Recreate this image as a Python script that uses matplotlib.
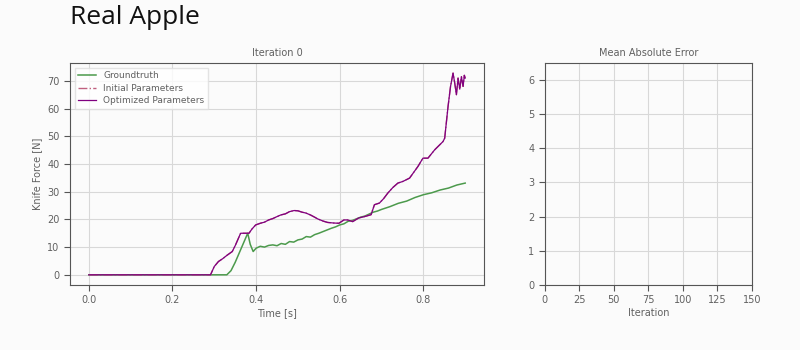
import matplotlib.pyplot as plt

# GROUNDTRUTH FORCE CURVE
gt_time = [0.0, 0.33, 0.34, 0.35, 0.36, 0.37, 0.38, 0.386, 0.393, 0.40, 0.41, 0.42, 0.43, 0.44,
           0.45, 0.46, 0.47, 0.48, 0.49, 0.50, 0.51, 0.52, 0.53, 0.54, 0.55, 0.56, 0.57, 0.58,
           0.59, 0.60, 0.61, 0.62, 0.63, 0.64, 0.65, 0.66, 0.67, 0.68, 0.69, 0.70, 0.72, 0.74,
           0.76, 0.78, 0.80, 0.82, 0.84, 0.86, 0.88, 0.90]
gt_force = [0.0, 0.0, 1.5, 4.5, 8.0, 11.5, 15.0, 11.0, 8.4, 9.6, 10.3, 10.0, 10.6, 10.8,
            10.5, 11.3, 11.0, 12.0, 11.8, 12.6, 12.9, 13.8, 13.6, 14.5, 15.0, 15.6, 16.2, 16.8,
            17.3, 18.0, 18.4, 19.3, 19.6, 20.2, 20.8, 21.2, 21.9, 22.6, 23.0, 23.6, 24.6, 25.8,
            26.6, 27.9, 28.9, 29.6, 30.6, 31.3, 32.4, 33.1]

# OPTIMIZED PARAMETERS (iteration 0 -> same as initial)
opt_time = [0.0, 0.291, 0.30, 0.31, 0.32, 0.33, 0.343, 0.35, 0.363, 0.383, 0.39, 0.399, 0.41,
            0.42, 0.43, 0.44, 0.45, 0.459, 0.47, 0.48, 0.491, 0.50, 0.51, 0.519, 0.53, 0.54,
            0.547, 0.56, 0.571, 0.585, 0.598, 0.61, 0.619, 0.631, 0.645, 0.659, 0.675, 0.683,
            0.695, 0.705, 0.715, 0.727, 0.739, 0.751, 0.767, 0.787, 0.799, 0.811, 0.827, 0.835,
            0.847, 0.851, 0.855, 0.859, 0.865, 0.871, 0.875, 0.879, 0.883, 0.887, 0.891, 0.895,
            0.898, 0.90]
opt_force = [0.0, 0.0, 3.0, 4.8, 5.8, 7.0, 8.4, 10.5, 15.0, 15.0, 16.5, 18.0, 18.6,
             19.0, 19.8, 20.3, 21.0, 21.6, 22.0, 22.8, 23.2, 23.1, 22.6, 22.3, 21.6, 20.8,
             20.2, 19.4, 18.9, 18.7, 18.6, 19.8, 19.8, 19.2, 20.5, 21.0, 21.7, 25.3,
             25.9, 27.5, 29.5, 31.5, 33.1, 33.7, 34.9, 39.1, 42.1, 42.1, 45.1, 46.3,
             48.1, 49.3, 55.0, 60.7, 68.0, 72.8, 69.2, 65.0, 71.0, 67.0, 71.5, 68.0,
             72.0, 71.0]
init_time = opt_time
init_force = opt_force

mae_xticks = [0, 25, 50, 75, 100, 125, 150]
mae_yticks = [0, 1, 2, 3, 4, 5, 6]

txt = "#606060"
plt.rcParams["font.size"] = 7
plt.rcParams["text.color"] = txt
plt.rcParams["axes.labelcolor"] = txt
plt.rcParams["xtick.color"] = txt
plt.rcParams["ytick.color"] = txt

fig = plt.figure(figsize=(8, 3.5), dpi=100, facecolor="#fbfbfb")
fig.text(0.0875, 0.985, "Real Apple", fontsize=19, family="Open Sans", color="#111111",
         va="top", ha="left")

ax1 = fig.add_axes([0.0875, 0.186, 0.5175, 0.634])
ax2 = fig.add_axes([0.681, 0.186, 0.259, 0.634])

# LEFT: FORCE CURVES
ax1.plot(gt_time, gt_force, color="#4c9a4c", lw=1.1, label="Groundtruth")
ax1.plot(init_time, init_force, color="#c0607f", lw=1.0, ls="-.", label="Initial Parameters")
ax1.plot(opt_time, opt_force, color="#800080", lw=0.9, label="Optimized Parameters")
ax1.set_title("Iteration 0", fontsize=7, color=txt, pad=5)
ax1.set_xlabel("Time [s]", labelpad=2)
ax1.set_ylabel("Knife Force [N]")
ax1.set_xticks([0.0, 0.2, 0.4, 0.6, 0.8])
ax1.set_yticks([0, 10, 20, 30, 40, 50, 60, 70])
ax1.legend(loc="upper left", fontsize=6.5, edgecolor="#dddddd", fancybox=False,
           borderpad=0.4, handlelength=2, labelspacing=0.4)

# RIGHT: MEAN ABSOLUTE ERROR (empty at iteration 0)
ax2.set_title("Mean Absolute Error", fontsize=7, color=txt, pad=5)
ax2.set_xlabel("Iteration", labelpad=2)
ax2.set_xlim(0, 150)
ax2.set_ylim(0, 6.5)
ax2.set_xticks(mae_xticks)
ax2.set_yticks(mae_yticks)

for ax in (ax1, ax2):
    ax.set_facecolor("#fbfbfb")
    ax.grid(True, color="#d8d8d8", lw=0.8)
    ax.set_axisbelow(True)
    for s in ax.spines.values():
        s.set_color("#555555")
    ax.tick_params(length=4, color="#555555")

plt.savefig("out.png", dpi=100, facecolor=fig.get_facecolor())
